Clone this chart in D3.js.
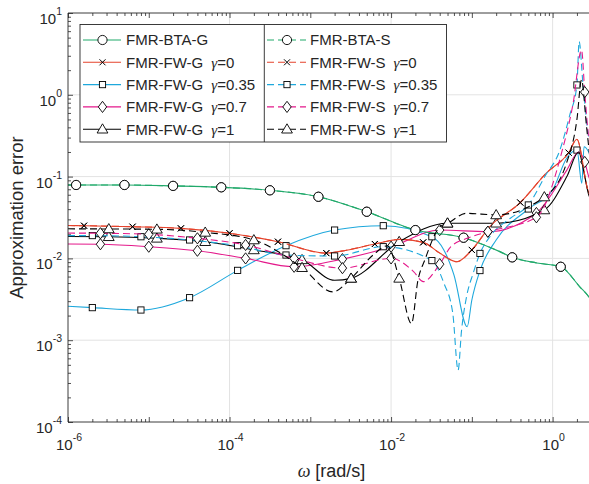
<!DOCTYPE html>
<html><head><meta charset="utf-8">
<script src="https://cdn.jsdelivr.net/npm/d3@7"></script>
<style>
body{margin:0;background:#fff}
svg{display:block}
text{font-family:"Liberation Sans",Arial,Helvetica,sans-serif;fill:#262626}
</style></head>
<body><svg id="chart" width="589" height="484"></svg>
<script>
// ---------- data (omega [rad/s], approximation error) ----------
const xTickExp = [-6, -4, -2, 0];
const yTickExp = [-4, -3, -2, -1, 0, 1];

const btaG_w = [1e-6,1.26e-6,5e-6,2e-5,7.9e-5,3.16e-4,1.26e-3,5e-3,0.02,0.079,0.222,0.316,0.637,1.26,2.17,2.8,3.16];
const btaG_e = [0.079,0.079,0.079,0.077,0.074,0.068,0.0567,0.0372,0.0222,0.0179,0.0121,0.0103,0.0088,0.0079,0.0045,0.0034,0.0028];
const btaG_mk = [1,2,3,4,5,6,7,8,9,11,13];

const fwG0_w = [1e-6,1.58e-6,6.3e-6,2.5e-5,1e-4,3.98e-4,1.58e-3,2.8e-3,6.3e-3,0.0129,0.025,0.0402,0.0652,0.1,0.167,0.398,0.841,1.58,2.0,2.73,3.16];
const fwG0_e = [0.0252,0.0251,0.0244,0.0233,0.0203,0.0160,0.0116,0.0126,0.0150,0.0171,0.0157,0.0116,0.0091,0.0127,0.0244,0.0482,0.111,0.196,0.286,0.0686,0.05];
const fwG0_mk = [1,2,3,4,5,6,8,10,13,15,17];

const fwG35_w = [1e-6,2e-6,8e-6,3.2e-5,1.26e-4,5e-4,2e-3,8e-3,0.032,0.045,0.06,0.0875,0.1,0.126,0.2,0.5,1.0,1.5,2.0,2.3,2.45,2.8,3.16];
const fwG35_e = [0.0026,0.0025,0.00234,0.00331,0.00714,0.0143,0.0222,0.0251,0.0184,0.0127,0.0063,0.00146,0.0031,0.0071,0.0168,0.0402,0.0686,0.169,0.211,0.083,0.232,0.2,0.15];
const fwG35_mk = [1,2,3,4,5,6,7,8,13,15,18];

const fwG70_w = [1e-6,2.52e-6,1e-5,4e-5,1.58e-4,6.3e-4,2.5e-3,0.01,0.04,0.158,0.63,1.5,2.1,2.5,2.8,3.16];
const fwG70_e = [0.015,0.0149,0.0139,0.0124,0.0100,0.0079,0.0098,0.0139,0.0222,0.0212,0.0359,0.12,0.2,0.151,0.1,0.08];
const fwG70_mk = [1,2,3,4,5,6,7,8,9,10,13];

const fwG1_w = [1e-6,3.2e-6,1.26e-5,5e-5,2e-4,7.9e-4,2e-3,3.2e-3,0.0126,0.05,0.2,0.79,1.5,2.1,2.5,2.8,3.16];
const fwG1_e = [0.0185,0.0184,0.0176,0.0160,0.0127,0.0096,0.0054,0.0057,0.0160,0.0269,0.0269,0.0391,0.1,0.2,0.1,0.06,0.05];
const fwG1_mk = [1,2,3,4,5,7,8,9,10,11];

const btaS_w = btaG_w.slice();
const btaS_e = btaG_e.slice();
const btaS_mk = btaG_mk.slice();

const fwS0_w = fwG0_w.slice();
const fwS0_e = fwG0_e.slice();
const fwS0_mk = fwG0_mk.slice();

const fwS35_w = [1e-6,2e-6,8e-6,3.2e-5,1.26e-4,5e-4,2e-3,8e-3,0.032,0.045,0.058,0.0676,0.0746,0.086,0.104,0.126,0.167,0.3,0.5,0.8,1.23,1.63,2.0,2.13,2.37,2.8,3.16];
const fwS35_e = [0.0190,0.0190,0.0184,0.0168,0.0143,0.0110,0.0107,0.0139,0.0094,0.0050,0.00215,0.00043,0.00133,0.0034,0.0066,0.0115,0.0184,0.031,0.045,0.1,0.211,0.566,1.32,4.46,1.39,0.3,0.2];
const fwS35_mk = [1,2,3,4,5,6,7,8,15,18,22];

const fwS70_w = [1e-6,2.52e-6,1e-5,4e-5,1.58e-4,6.3e-4,2.5e-3,0.01,0.019,0.025,0.04,0.055,0.0875,0.158,0.63,1.3,1.8,2.28,2.5,2.8,3.16];
const fwS70_e = [0.0204,0.0203,0.0197,0.0176,0.0146,0.0100,0.0076,0.0100,0.0069,0.0052,0.0085,0.0139,0.0176,0.0212,0.0318,0.2,0.8,3.53,1.08,0.3,0.2];
const fwS70_mk = [1,2,3,4,5,6,7,10,13,14,18];

const fwS1_w = [1e-6,3.2e-6,1.26e-5,5e-5,2e-4,7.9e-4,1.9e-3,3.2e-3,6e-3,9e-3,0.0126,0.0179,0.0215,0.0262,0.0402,0.05,0.086,0.2,0.79,1.5,2.0,2.28,2.63,3.0];
const fwS1_e = [0.0230,0.0229,0.0227,0.0208,0.0168,0.0077,0.0039,0.0057,0.0110,0.0143,0.0057,0.0016,0.0054,0.0096,0.0244,0.0269,0.0356,0.034,0.0563,0.15,0.5,1.52,0.41,0.12];
const fwS1_mk = [1,2,3,4,5,7,10,15,17,18];

// ---------- styles ----------
const cGreen = "#21a96b", cRed = "#e5432c", cBlue = "#1ea8dc", cMag = "#e4198b", cBlack = "#000000";

const series = [
  {label:"FMR-BTA-G", g:null, w:btaG_w, e:btaG_e, mk:btaG_mk, color:cGreen, dash:null, marker:"circle", col:0, row:0},
  {label:"FMR-FW-G", g:"0", w:fwG0_w, e:fwG0_e, mk:fwG0_mk, color:cRed, dash:null, marker:"x", col:0, row:1},
  {label:"FMR-FW-G", g:"0.35", w:fwG35_w, e:fwG35_e, mk:fwG35_mk, color:cBlue, dash:null, marker:"square", col:0, row:2},
  {label:"FMR-FW-G", g:"0.7", w:fwG70_w, e:fwG70_e, mk:fwG70_mk, color:cMag, dash:null, marker:"diamond", col:0, row:3},
  {label:"FMR-FW-G", g:"1", w:fwG1_w, e:fwG1_e, mk:fwG1_mk, color:cBlack, dash:null, marker:"triangle", col:0, row:4},
  {label:"FMR-BTA-S", g:null, w:btaS_w, e:btaS_e, mk:btaS_mk, color:cGreen, dash:"7,4", marker:"circle", col:1, row:0},
  {label:"FMR-FW-S", g:"0", w:fwS0_w, e:fwS0_e, mk:fwS0_mk, color:cRed, dash:"7,4", marker:"x", col:1, row:1},
  {label:"FMR-FW-S", g:"0.35", w:fwS35_w, e:fwS35_e, mk:fwS35_mk, color:cBlue, dash:"7,4", marker:"square", col:1, row:2},
  {label:"FMR-FW-S", g:"0.7", w:fwS70_w, e:fwS70_e, mk:fwS70_mk, color:cMag, dash:"7,4", marker:"diamond", col:1, row:3},
  {label:"FMR-FW-S", g:"1", w:fwS1_w, e:fwS1_e, mk:fwS1_mk, color:cBlack, dash:"7,4", marker:"triangle", col:1, row:4}
];

// ---------- layout ----------
const L = 68, R = 593, T = 13, B = 422;
const svg = d3.select("#chart");
const x = d3.scaleLog().domain([1e-6, Math.pow(10, 0.5)]).range([L, R]);
const y = d3.scaleLog().domain([1e-4, 10]).range([B, T]);
const axisColor = "#262626";

svg.append("defs").append("clipPath").attr("id","plotclip")
  .append("rect").attr("x",L).attr("y",T).attr("width",R-L).attr("height",B-T);

// grid
const grid = svg.append("g");
xTickExp.forEach(k => {
  const v = Math.pow(10,k);
  if (k > -6) grid.append("line").attr("x1",x(v)).attr("x2",x(v)).attr("y1",T).attr("y2",B)
    .attr("stroke","#e3e3e3").attr("stroke-width",1);
});
yTickExp.forEach(k => {
  const v = Math.pow(10,k);
  if (k > -4 && k < 1) grid.append("line").attr("x1",L).attr("x2",R).attr("y1",y(v)).attr("y2",y(v))
    .attr("stroke","#e3e3e3").attr("stroke-width",1);
});

// minor tick values
function minors(lo, hi) {
  const out = [];
  for (let k = lo; k < hi; k++) for (let m = 2; m <= 9; m++) out.push(m * Math.pow(10, k));
  return out;
}
const xMinor = minors(-6, 1).filter(v => v <= Math.pow(10,0.5));
const yMinor = minors(-4, 1);
const xMajor = [-6,-5,-4,-3,-2,-1,0].map(k => Math.pow(10,k));
const yMajor = yTickExp.map(k => Math.pow(10,k));

function styleAxis(g) {
  g.select(".domain").remove();
  g.selectAll(".tick line").attr("stroke", axisColor).attr("stroke-width", 0.8);
  g.selectAll(".tick text").remove();
}
svg.append("g").attr("transform",`translate(0,${B})`).call(d3.axisBottom(x).tickValues(xMajor).tickSize(-5).tickFormat("")).call(styleAxis);
svg.append("g").attr("transform",`translate(0,${B})`).call(d3.axisBottom(x).tickValues(xMinor).tickSize(-3).tickFormat("")).call(styleAxis);
svg.append("g").attr("transform",`translate(0,${T})`).call(d3.axisTop(x).tickValues(xMajor).tickSize(-5).tickFormat("")).call(styleAxis);
svg.append("g").attr("transform",`translate(0,${T})`).call(d3.axisTop(x).tickValues(xMinor).tickSize(-3).tickFormat("")).call(styleAxis);
svg.append("g").attr("transform",`translate(${L},0)`).call(d3.axisLeft(y).tickValues(yMajor).tickSize(-5).tickFormat("")).call(styleAxis);
svg.append("g").attr("transform",`translate(${L},0)`).call(d3.axisLeft(y).tickValues(yMinor).tickSize(-3).tickFormat("")).call(styleAxis);

// ---------- series ----------
const line = d3.line().x(d => x(d[0])).y(d => y(d[1])).curve(d3.curveMonotoneX);
const plot = svg.append("g").attr("clip-path","url(#plotclip)");

function drawMarker(g, type, cx, cy) {
  if (type === "circle") {
    g.append("circle").attr("cx",cx).attr("cy",cy).attr("r",4.6).attr("fill","#fff").attr("stroke","#000").attr("stroke-width",0.9);
  } else if (type === "square") {
    g.append("rect").attr("x",cx-3.1).attr("y",cy-3.1).attr("width",6.2).attr("height",6.2).attr("fill","#fff").attr("stroke","#000").attr("stroke-width",0.9);
  } else if (type === "diamond") {
    g.append("path").attr("d",`M${cx},${cy-5.6}L${cx+4.2},${cy}L${cx},${cy+5.6}L${cx-4.2},${cy}Z`).attr("fill","#fff").attr("stroke","#000").attr("stroke-width",0.9);
  } else if (type === "triangle") {
    g.append("path").attr("d",`M${cx},${cy-5.4}L${cx+5.4},${cy+3.8}L${cx-5.4},${cy+3.8}Z`).attr("fill","#fff").attr("stroke","#000").attr("stroke-width",0.9);
  } else if (type === "x") {
    g.append("path").attr("d",`M${cx-3},${cy-3}L${cx+3},${cy+3}M${cx-3},${cy+3}L${cx+3},${cy-3}`).attr("fill","none").attr("stroke","#000").attr("stroke-width",1);
  }
}

series.forEach(s => {
  const pts = s.w.map((w,i) => [w, s.e[i]]);
  const g = plot.append("g");
  g.append("path").datum(pts).attr("d", line).attr("fill","none").attr("stroke", s.color)
    .attr("stroke-width", 1.1).attr("stroke-dasharray", s.dash);
  s.mk.forEach(i => drawMarker(g, s.marker, x(pts[i][0]), y(pts[i][1])));
});

// box lines
svg.append("line").attr("x1",L).attr("x2",L).attr("y1",T).attr("y2",B).attr("stroke",axisColor).attr("stroke-width",0.9);
svg.append("line").attr("x1",L).attr("x2",R).attr("y1",B).attr("y2",B).attr("stroke",axisColor).attr("stroke-width",0.9);
svg.append("line").attr("x1",L).attr("x2",R).attr("y1",T).attr("y2",T).attr("stroke",axisColor).attr("stroke-width",0.9);

// tick labels
function supLabel(px, py, exp, anchor) {
  const t = svg.append("text").attr("x",px).attr("y",py).attr("text-anchor",anchor).style("font-size","15px");
  t.append("tspan").text("10");
  t.append("tspan").attr("dy",-9).style("font-size","10.5px").text(exp);
}
yTickExp.forEach(k => supLabel(62, y(Math.pow(10,k)) + 11, String(k), "end"));
xTickExp.forEach(k => supLabel(x(Math.pow(10,k)) + 1, B + 28, String(k), "middle"));

// axis titles
svg.append("text").attr("transform",`translate(23,${(T+B)/2}) rotate(-90)`).attr("text-anchor","middle")
  .style("font-size","18.5px").text("Approximation error");
const xl = svg.append("text").attr("x",(L+R)/2 + 1).attr("y",477).attr("text-anchor","middle").style("font-size","18px");
xl.append("tspan").style("font-family","'Liberation Serif',serif").style("font-style","italic").text("ω");
xl.append("tspan").text(" [rad/s]");

// ---------- legend ----------
const lg = svg.append("g");
lg.append("rect").attr("x",80).attr("y",24.5).attr("width",366.5).attr("height",117.5).attr("fill","#fff").attr("stroke","#262626").attr("stroke-width",0.9);
lg.append("line").attr("x1",264.3).attr("x2",264.3).attr("y1",24.5).attr("y2",142).attr("stroke","#262626").attr("stroke-width",0.9);
const colX = [{l0:83, l1:121, m:102.5, t:126}, {l0:267, l1:306, m:287, t:310}];
series.forEach(s => {
  const c = colX[s.col];
  const cy = 40 + s.row * 22.3;
  lg.append("line").attr("x1",c.l0).attr("x2",c.l1).attr("y1",cy).attr("y2",cy).attr("stroke",s.color)
    .attr("stroke-width",1.1).attr("stroke-dasharray", s.dash);
  drawMarker(lg, s.marker, c.m, cy);
  const t = lg.append("text").attr("x",c.t).attr("y",cy+5.3).style("font-size","15px");
  t.append("tspan").text(s.label);
  if (s.g !== null) {
    t.append("tspan").attr("dx",8).style("font-family","'Liberation Serif',serif").style("font-style","italic").text("γ");
    t.append("tspan").text("=" + s.g);
  }
});
</script></body></html>
